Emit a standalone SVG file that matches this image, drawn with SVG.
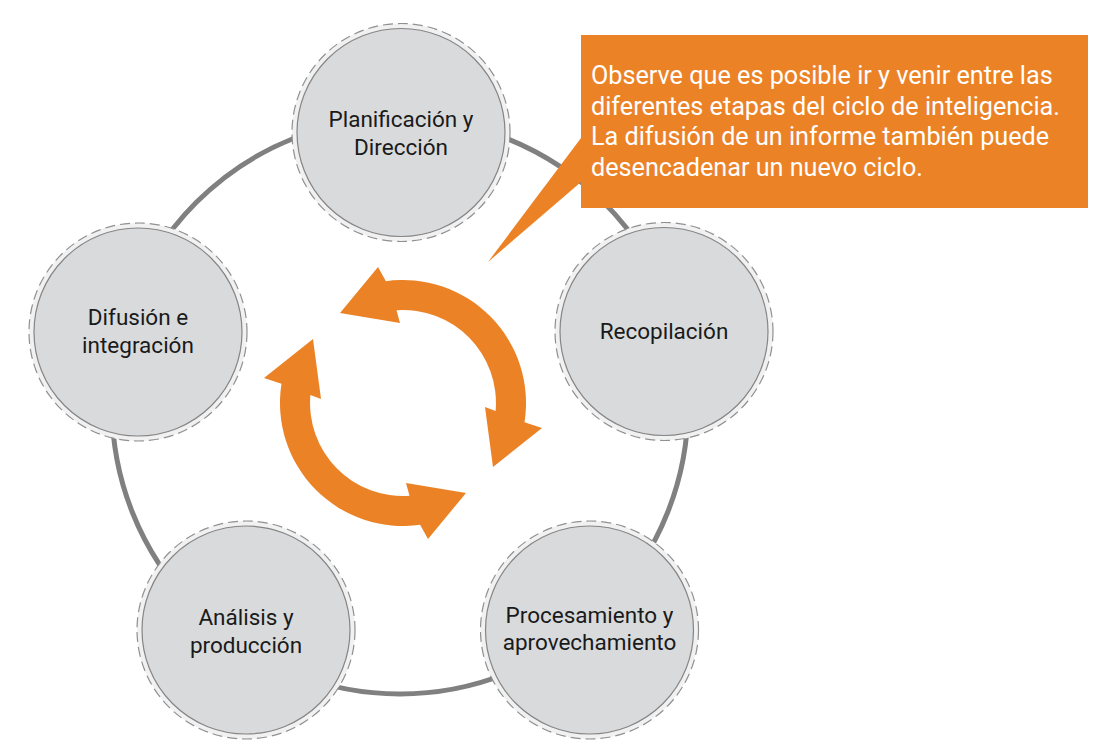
<svg xmlns="http://www.w3.org/2000/svg" width="1110" height="751" viewBox="0 0 1110 751">
  <style>
    .halo { fill: #f1f1f1; stroke: #909090; stroke-width: 1.2; stroke-dasharray: 10 5; }
    .disc { fill: #d9dadc; stroke: #858585; stroke-width: 1.2; }
    .lbl { font-family: Roboto, "Liberation Sans", sans-serif; font-size: 22.5px; fill: #1a1a1a; text-anchor: middle; }
    .note { font-family: Roboto, "Liberation Sans", sans-serif; font-size: 25.2px; fill: #ffffff; }
    .cyc { fill: #ec8226; }
  </style>
  <rect width="1110" height="751" fill="#ffffff"/>
  <g id="connectors">
    <circle cx="400" cy="406" r="288" fill="none" stroke="#808080" stroke-width="5"/>
  </g>
  <g id="cycle-arrows">
    <path id="arcA" class="cyc" d="M385.9,281.2 A123,123 0 0 1 524.5,422.2 L542,428 L493,467 L485,407 L495.6,411.1 A93,93 0 0 0 396.5,310.2 L400,323 L340,313 L378,267 Z"/>
    <path class="cyc" transform="rotate(180 403 403)" d="M385.9,281.2 A123,123 0 0 1 524.5,422.2 L542,428 L493,467 L485,407 L495.6,411.1 A93,93 0 0 0 396.5,310.2 L400,323 L340,313 L378,267 Z"/>
  </g>
  <g id="node-planificacion">
    <circle class="halo" cx="401" cy="132.5" r="109"/>
    <circle class="disc" cx="401" cy="132.5" r="104"/>
    <text class="lbl" x="401" y="127">Planificación y</text>
    <text class="lbl" x="401" y="155">Dirección</text>
  </g>
  <g id="node-recopilacion">
    <circle class="halo" cx="664" cy="331.5" r="109"/>
    <circle class="disc" cx="664" cy="331.5" r="104"/>
    <text class="lbl" x="664" y="339">Recopilación</text>
  </g>
  <g id="node-procesamiento">
    <circle class="halo" cx="589.5" cy="630" r="109"/>
    <circle class="disc" cx="589.5" cy="630" r="104"/>
    <text class="lbl" x="589.5" y="623">Procesamiento y</text>
    <text class="lbl" x="589.5" y="650">aprovechamiento</text>
  </g>
  <g id="node-analisis">
    <circle class="halo" cx="246" cy="630" r="109"/>
    <circle class="disc" cx="246" cy="630" r="104"/>
    <text class="lbl" x="246" y="625">Análisis y</text>
    <text class="lbl" x="246" y="653">producción</text>
  </g>
  <g id="node-difusion">
    <circle class="halo" cx="138" cy="332" r="109"/>
    <circle class="disc" cx="138" cy="332" r="104"/>
    <text class="lbl" x="138" y="325">Difusión e</text>
    <text class="lbl" x="138" y="353">integración</text>
  </g>
  <g id="callout">
    <path fill="#ec8226" d="M581,138 L488,262 L581,182 Z"/>
    <rect x="581" y="35" width="507" height="173" fill="#ec8226"/>
    <text class="note" x="591" y="84">Observe que es posible ir y venir entre las</text>
    <text class="note" x="591" y="115">diferentes etapas del ciclo de inteligencia.</text>
    <text class="note" x="591" y="145">La difusión de un informe también puede</text>
    <text class="note" x="591" y="176">desencadenar un nuevo ciclo.</text>
  </g>
</svg>
